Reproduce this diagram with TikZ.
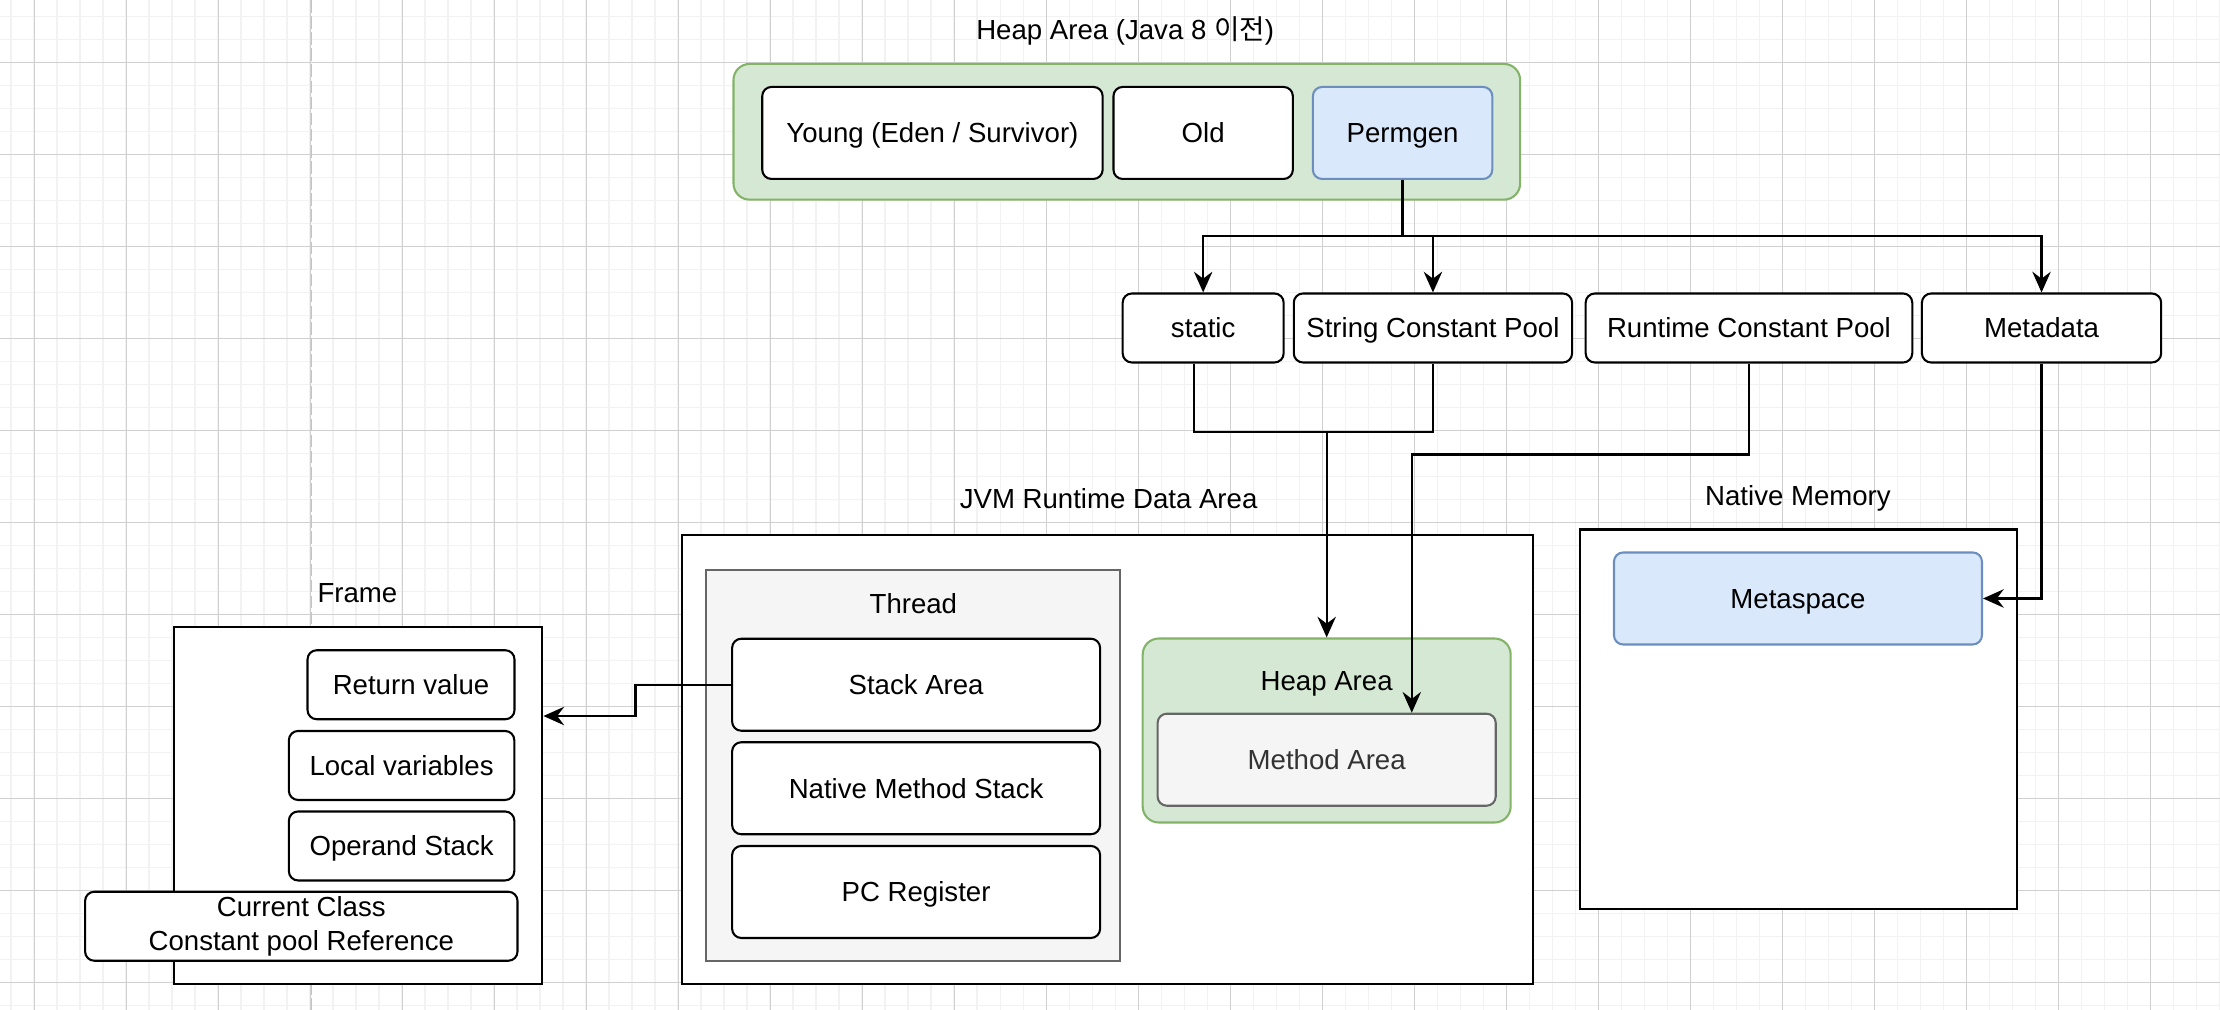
\documentclass[tikz,border=0pt]{standalone}
\usepackage{fontspec}
\setmainfont{Liberation Sans}
\newfontfamily\krfont{Noto Sans CJK KR}
\usepackage{xcolor}
\usetikzlibrary{arrows.meta}
\definecolor{greenfill}{HTML}{D5E8D4}
\definecolor{greenline}{HTML}{82B366}
\definecolor{bluefill}{HTML}{DAE8FC}
\definecolor{blueline}{HTML}{6C8EBF}
\definecolor{grayfill}{HTML}{F5F5F5}
\definecolor{grayline}{HTML}{666666}
\definecolor{graytext}{HTML}{333333}
\definecolor{gridlight}{HTML}{F2F2F2}
\definecolor{griddark}{HTML}{D0D0D0}
\definecolor{breakline}{HTML}{C4C4C4}
\tikzstyle{box}=[draw, line width=0.9pt, rounded corners=4pt, fill=white, inner sep=0pt, align=center]
\tikzstyle{cell}=[box, text height=8.6pt, text depth=0pt]
\tikzstyle{bluecell}=[cell, draw=blueline, fill=bluefill]
\tikzstyle{graycell}=[cell, draw=grayline, fill=grayfill, text=graytext]
\tikzstyle{greenbox}=[draw=greenline, fill=greenfill, line width=0.9pt, rounded corners=7pt]
\tikzstyle{area}=[draw, line width=0.9pt, fill=white]
\tikzstyle{threadbox}=[draw=grayline, fill=grayfill, line width=0.9pt]
\tikzstyle{caption}=[inner sep=0pt, text height=8.6pt, text depth=0pt]
\tikzstyle{conn}=[-{Stealth[length=9pt, width=8pt, inset=3pt]}, line width=1pt]
\tikzstyle{wire}=[line width=1pt]
\tikzstyle{gridminor}=[gridlight, line width=0.7pt]
\tikzstyle{gridmajor}=[griddark, line width=0.3pt]
\tikzstyle{pagebreak}=[breakline, line width=0.4pt, dash pattern=on 5.5pt off 1.5pt]
\begin{document}
\begin{tikzpicture}[x=1pt, y=-1pt, font=\fontsize{12}{14.5}\selectfont]
        % 배경
        \useasboundingbox (0,0) rectangle (965.2,439.1);
        \fill[white] (0,0) rectangle (965.2,439.1);
        \foreach \i in {0,...,96} \draw[gridminor] ({4.9+10*\i},0) -- ({4.9+10*\i},439.1);
        \foreach \j in {0,...,43} \draw[gridminor] (0,{7.1+10*\j}) -- (965.2,{7.1+10*\j});
        \foreach \i in {0,...,23} \draw[gridmajor] ({14.9+40*\i},0) -- ({14.9+40*\i},439.1);
        \foreach \j in {0,...,10} \draw[gridmajor] (0,{27.1+40*\j}) -- (965.2,{27.1+40*\j});
        \draw[pagebreak] (135.4,0) -- (135.4,439.1);

        % Heap Area (Java 8 이전)
        \node[caption] (heaptitle) at (489.2,13) {Heap Area (Java 8 {\krfont 이전})};
        \node[greenbox, minimum width=342pt, minimum height=59pt] (heapold) at (489.9,57.3) {};
        \node[cell, minimum width=148pt, minimum height=40pt] (young) at (405.4,57.8) {Young (Eden / Survivor)};
        \node[cell, minimum width=78pt, minimum height=40pt] (old) at (523.1,57.8) {Old};
        \node[bluecell, minimum width=78pt, minimum height=40pt] (permgen) at (609.8,57.8) {Permgen};

        % Permgen 구성
        \node[cell, minimum width=70pt, minimum height=30pt] (static) at (523.1,142.6) {static};
        \node[cell, minimum width=121pt, minimum height=30pt] (strpool) at (623,142.6) {String Constant Pool};
        \node[cell, minimum width=142pt, minimum height=30pt] (rtpool) at (760.4,142.6) {Runtime Constant Pool};
        \node[cell, minimum width=104pt, minimum height=30pt] (metadata) at (887.6,142.6) {Metadata};
        \draw[conn] (permgen.south) -- ++(0,24.4) -| (static.north);
        \draw[conn] (permgen.south) -- ++(0,24.4) -| (strpool.north);
        \draw[conn] (permgen.south) -- ++(0,24.4) -| (metadata.north);

        % JVM Runtime Data Area
        \node[caption] (jvmtitle) at (482,216.7) {JVM Runtime Data Area};
        \node[area, minimum width=370pt, minimum height=195pt] (jvm) at (481.6,330.2) {};
        \node[threadbox, minimum width=180pt, minimum height=170pt] (thread) at (396.8,332.8) {};
        \node[caption] (threadtitle) at (397.1,262.5) {Thread};
        \node[cell, minimum width=160pt, minimum height=40pt] (stack) at (398.3,297.7) {Stack Area};
        \node[cell, minimum width=160pt, minimum height=40pt] (nativestack) at (398.3,342.7) {Native Method Stack};
        \node[cell, minimum width=160pt, minimum height=40pt] (pcreg) at (398.3,387.8) {PC Register};
        \node[greenbox, minimum width=160pt, minimum height=80pt] (heap) at (576.8,317.6) {};
        \node[caption] (heaplabel) at (576.8,295.7) {Heap Area};
        \node[graycell, minimum width=147pt, minimum height=40pt] (method) at (576.8,330.3) {Method Area};

        % Native Memory
        \node[caption] (nativetitle) at (781.7,215.6) {Native Memory};
        \node[area, minimum width=190pt, minimum height=165pt] (native) at (781.8,312.7) {};
        \node[bluecell, minimum width=160pt, minimum height=40pt] (metaspace) at (781.7,260.2) {Metaspace};

        % Frame
        \node[caption] (frametitle) at (155.4,257.5) {Frame};
        \node[area, minimum width=160pt, minimum height=155pt] (frame) at (155.8,350.3) {};
        \node[cell, minimum width=90pt, minimum height=30pt] (retval) at (178.7,297.7) {Return value};
        \node[cell, minimum width=98pt, minimum height=30pt] (localvar) at (174.6,332.8) {Local variables};
        \node[cell, minimum width=98pt, minimum height=30pt] (operand) at (174.6,367.8) {Operand Stack};
        \node[box, minimum width=188pt, minimum height=30pt] (classref) at (131,402.7) {Current Class\\Constant pool Reference};

        % 연결
        \coordinate (join) at (576.8,187.7);
        \draw[wire] ([xshift=-4pt]static.south) |- (join);
        \draw[wire] (strpool.south) |- (join);
        \draw[conn] (join) -- (heap.north);
        \draw[conn] (rtpool.south) -- ++(0,39.5) -| ([xshift=37pt]method.north);
        \draw[conn] (metadata.south) |- (metaspace.east);
        \draw[conn] (stack.west) -- ++(-41.6,0) |- ([yshift=39pt]frame.east);
\end{tikzpicture}
\end{document}
